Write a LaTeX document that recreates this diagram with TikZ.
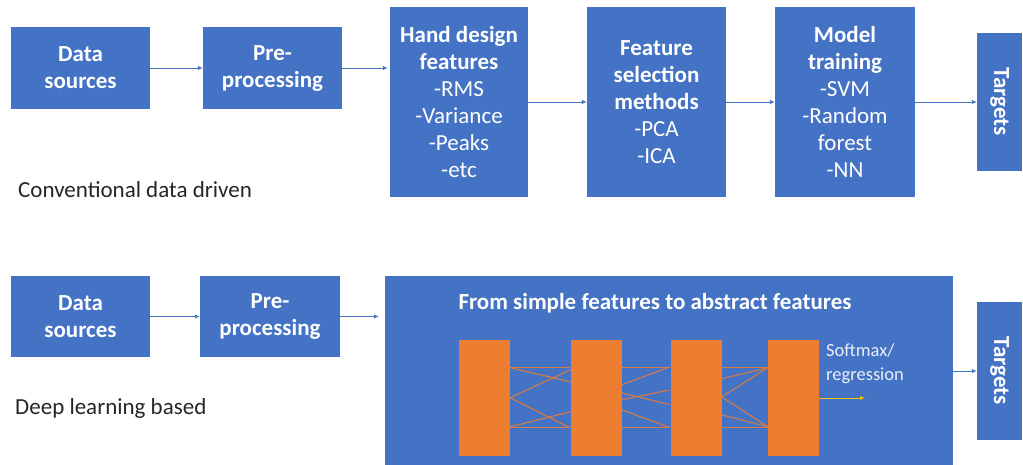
\documentclass[tikz,border=0pt]{standalone}
\usepackage{fontspec}
\usepackage{graphicx}
\setmainfont{Carlito}
\usetikzlibrary{arrows.meta,calc}
\definecolor{boxblue}{HTML}{4472C4}
\definecolor{nnorange}{HTML}{ED7D31}
\definecolor{goldarrow}{HTML}{FFC000}
\definecolor{labelgray}{HTML}{262626}
\newcommand\nnline[4]{\draw[nn] ([yshift=-#2pt]#1.north east) -- ([yshift=-#4pt]#3.north west);}
\begin{document}
\begin{tikzpicture}[x=1pt,y=-1pt,
  blk/.style={fill=boxblue, draw=none, text=white, align=center, inner sep=0pt, font=\fontsize{23}{27}\selectfont},
  layer/.style={fill=nnorange, draw=none, minimum width=51pt, minimum height=116pt, inner sep=0pt},
  arr/.style={draw=boxblue, line width=0.9pt, -{Latex[length=5pt,width=4.5pt]}},
  nn/.style={draw=nnorange!85!boxblue, line width=1.1pt},
  lbl/.style={text=labelgray, font=\fontsize{23}{27}\selectfont, inner sep=0pt, anchor=west}]
\useasboundingbox (0,0) rectangle (1023,465);
\fill[white] (0,0) rectangle (1023,465);
% top row
\node[blk, minimum width=139pt, minimum height=82pt] (ds1) at (80.5,68) {\textbf{Data}\\\textbf{sources}};
\node[blk, minimum width=139pt, minimum height=82pt] (pp1) at (272.5,68) {\textbf{Pre-}\\\textbf{processing}};
\node[blk, minimum width=138pt, minimum height=190pt] (hd) at (459,102) {\textbf{Hand design}\\\textbf{features}\\-RMS\\-Variance\\-Peaks\\-etc};
\node[blk, minimum width=139pt, minimum height=190pt] (fs) at (656.5,102) {\textbf{Feature}\\\textbf{selection}\\\textbf{methods}\\-PCA\\-ICA};
\node[blk, minimum width=140pt, minimum height=190pt] (mt) at (845,102) {\textbf{Model}\\\textbf{training}\\-SVM\\-Random\\forest\\-NN};
\node[blk, minimum width=45pt, minimum height=138pt] (tg1) at (999.5,102) {\rotatebox{-90}{\textbf{Targets}}};
\draw[arr] (ds1) -- (pp1);
\draw[arr, shorten >=2pt] (pp1.east) -- (pp1.east -| hd.west);
\draw[arr] (hd) -- (fs);
\draw[arr] (fs) -- (mt);
\draw[arr] (mt) -- (tg1);
\node[lbl] (conv) at (18,190) {Conventional data driven};
% bottom row
\node[blk, minimum width=139pt, minimum height=81pt] (ds2) at (80.5,316.5) {\textbf{Data}\\\textbf{sources}};
\node[blk, minimum width=140pt, minimum height=81pt] (pp2) at (270,316.5) {\textbf{Pre-}\\\textbf{processing}};
\node[blk, minimum width=568pt, minimum height=190pt] (big) at (669,371) {};
\node[blk, minimum width=45pt, minimum height=138pt] (tg2) at (999.5,371) {\rotatebox{-90}{\textbf{Targets}}};
\draw[arr] (ds2) -- (pp2);
\draw[arr, shorten >=6pt] (pp2.east) -- (pp2.east -| big.west);
\draw[arr] (big) -- (tg2);
\node[lbl] (deep) at (15,408) {Deep learning based};
\node[text=white, inner sep=0pt, font=\bfseries\fontsize{23}{27}\selectfont] (ttl) at (655,303) {From simple features to abstract features};
% layers
\node[layer] (r1) at (484.5,398) {};
\node[layer] (r2) at (596,398) {};
\node[layer] (r3) at (696,398) {};
\node[layer] (r4) at (793.5,398) {};
\nnline{r1}{28}{r2}{28}
\nnline{r1}{28}{r2}{42}
\nnline{r1}{58}{r2}{30}
\nnline{r1}{58}{r2}{88}
\nnline{r1}{87}{r2}{72}
\nnline{r1}{88}{r2}{88}
\nnline{r2}{28}{r3}{28}
\nnline{r2}{45}{r3}{27}
\nnline{r2}{53}{r3}{65}
\nnline{r2}{60}{r3}{50}
\nnline{r2}{70}{r3}{88}
\nnline{r2}{88}{r3}{88}
\nnline{r3}{28}{r4}{28}
\nnline{r3}{39}{r4}{28}
\nnline{r3}{57}{r4}{28}
\nnline{r3}{57}{r4}{87}
\nnline{r3}{75}{r4}{87}
\nnline{r3}{88}{r4}{88}
\coordinate (outend) at (865,398);
\draw[draw=goldarrow, line width=1pt, -{Latex[length=5pt,width=4.5pt]}] (r4.east) -- (outend);
\node[anchor=west, align=left, inner sep=0pt, text=white!88!boxblue, font=\fontsize{18.5}{24}\selectfont] (smx) at (826,364) {Softmax/\\regression};
\end{tikzpicture}
\end{document}
